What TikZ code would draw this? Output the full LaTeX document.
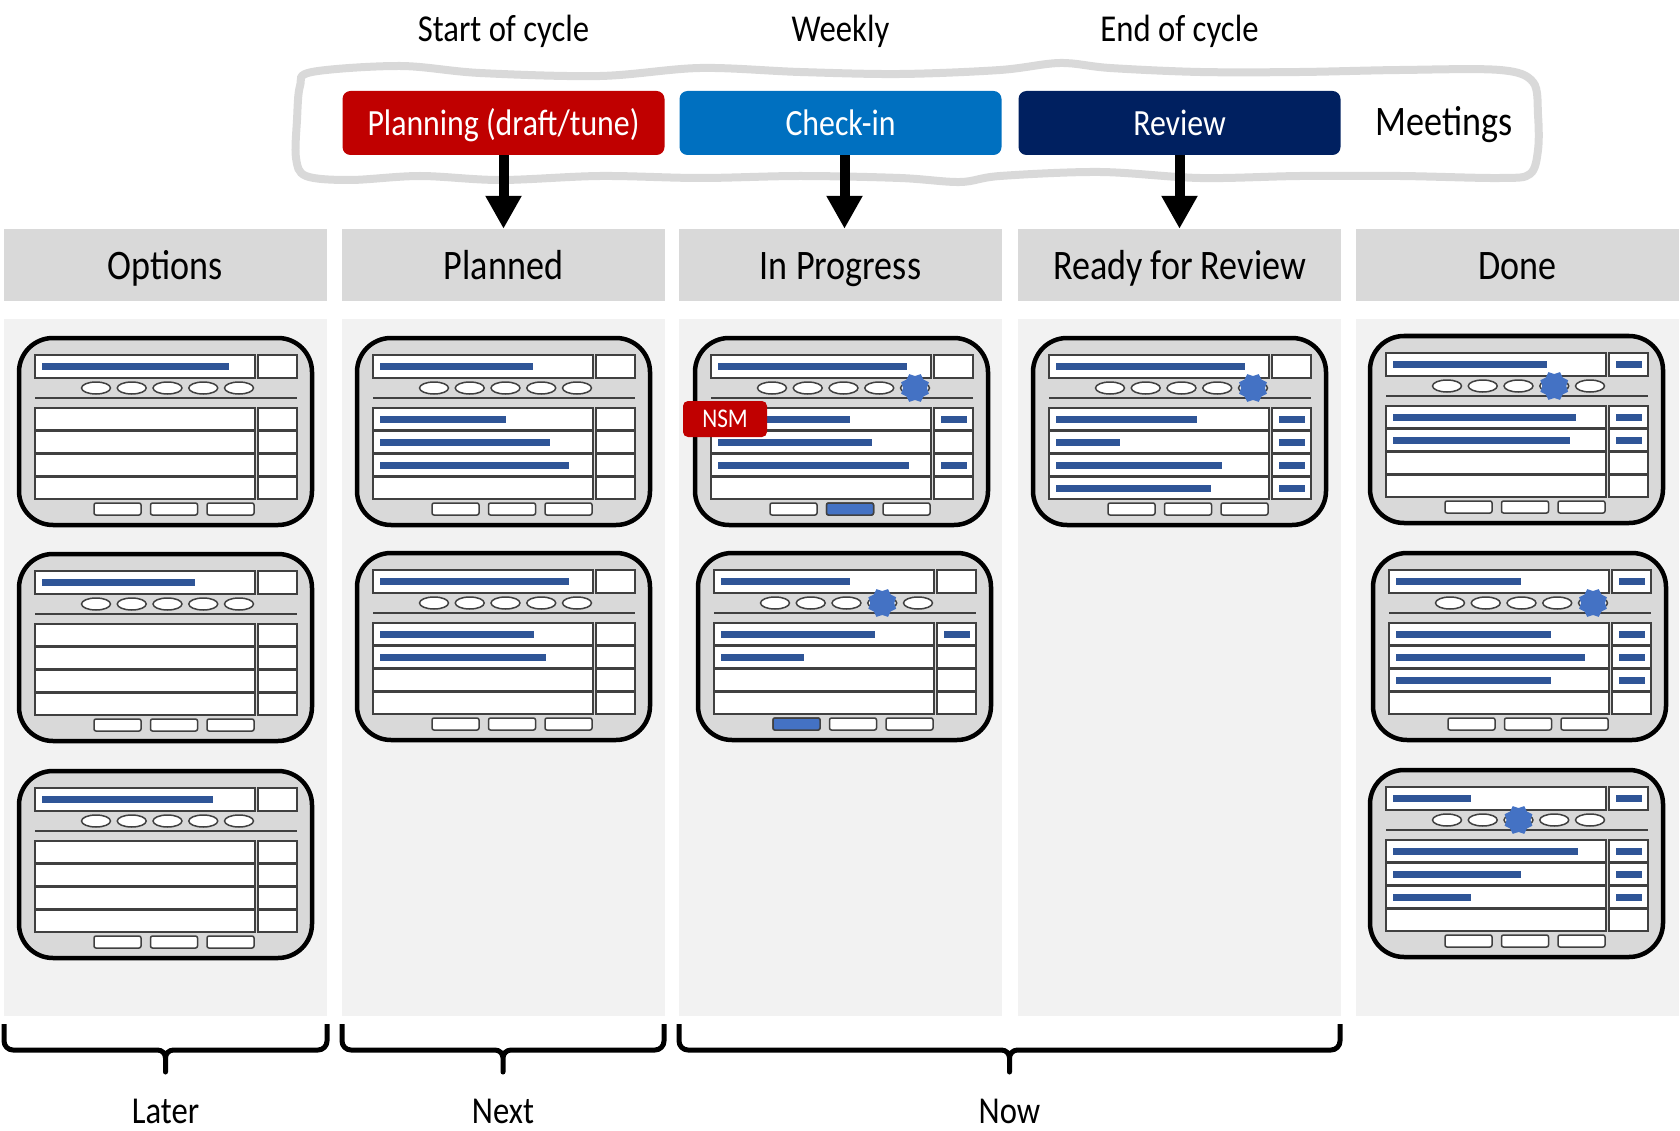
\documentclass[tikz,border=0pt]{standalone}
\usepackage{fontspec}
\setmainfont{Carlito}[FakeStretch=0.86]
\usetikzlibrary{arrows.meta,positioning,shapes.geometric}
\definecolor{PlanRed}{HTML}{C00000}
\definecolor{CheckBlue}{HTML}{0070C0}
\definecolor{ReviewNavy}{HTML}{002060}
\definecolor{HeadGray}{HTML}{D9D9D9}
\definecolor{LaneGray}{HTML}{F2F2F2}
\definecolor{LineGray}{HTML}{404040}
\definecolor{BarBlue}{HTML}{2F5597}
\definecolor{MarkBlue}{HTML}{4472C4}
\tikzset{
  colhead/.style={fill=HeadGray, minimum width=323pt, minimum height=72pt, inner sep=0pt, text height=34pt, text depth=4pt, font=\fontsize{42}{50}\selectfont},
  lanebody/.style={fill=LaneGray, minimum width=323pt, minimum height=697pt, inner sep=0pt},
  meetbox/.style={rounded corners=8pt, minimum width=322pt, minimum height=64pt, inner sep=0pt, text height=30pt, text depth=4pt, text=white, font=\fontsize{37}{44}\selectfont},
  toplabel/.style={inner sep=0pt, text height=30pt, text depth=8pt, font=\fontsize{38}{44}\selectfont},
  bigarrow/.style={line width=10pt, -{Triangle[length=33pt,width=34pt]}},
  wavy/.style={draw=HeadGray, line width=8pt},
  cardframe/.style={fill=HeadGray, draw=black, line width=4.5pt, rounded corners=34pt},
  cell/.style={fill=white, draw=LineGray, line width=1.5pt},
  flagstar/.style={star, star points=8, star point ratio=0.8, minimum size=24pt, inner sep=0pt, fill=MarkBlue},
  nsmtag/.style={fill=PlanRed, rounded corners=5pt, minimum width=84pt, minimum height=36pt, inner sep=0pt, text=white, font=\fontsize{27}{32}\selectfont},
  bracket/.style={line width=5pt, line join=round}
}
% card outline, drawn relative to its top left corner
\newcommand{\cardbase}[1]{%
  \draw[cardframe] (0,0) rectangle (293,-187);
  \draw[cell] (16,-17) rectangle (236,-40);
  \draw[cell] (239,-17) rectangle (278,-40);
  \foreach \ox in {77,112.75,148.5,184.25,220}
    \draw[cell] (\ox,-50) ellipse (14.5 and 6);
  \draw[LineGray, line width=1.5pt] (16,-60) -- (278,-60);
  \foreach \rw in {1,...,4}{
    \draw[cell] (16,{-47-23*\rw}) rectangle (236,{-69-23*\rw});
    \draw[cell] (239,{-47-23*\rw}) rectangle (278,{-69-23*\rw});
  }
  \foreach \bx in {75,131.5,188}
    \draw[cell, rounded corners=2pt] (\bx,-165) rectangle ({\bx+47},-177);
  \fill[BarBlue] (23,-25) rectangle (#1,-32);
}
\newcommand{\rowbar}[2]{\fill[BarBlue] (23,{-54.5-23*#1}) rectangle (#2,{-61.5-23*#1});}
\newcommand{\sidemark}[1]{\fill[BarBlue] (246,{-54.5-23*#1}) rectangle (272,{-61.5-23*#1});}
\newcommand{\titleside}{\fill[BarBlue] (246,-25) rectangle (272,-32);}
\newcommand{\cardflag}[2]{\node[flagstar] (#1) at ({41.25+35.75*#2},-50) {};}
\newcommand{\bluebtn}[1]{\draw[cell, fill=MarkBlue, rounded corners=2pt] ({18.5+56.5*#1},-165) rectangle ({65.5+56.5*#1},-177);}
% brace under a group of lanes
\newcommand{\tbrace}[2]{%
  \pgfmathsetmacro{\bm}{(#1+#2)/2}
  \draw[bracket] (#1,-1024) -- (#1,-1041) arc[start angle=180,end angle=270,radius=9]
    -- ({\bm-8},-1050) arc[start angle=90,end angle=0,radius=8] -- (\bm,-1072)
    -- (\bm,-1058) arc[start angle=180,end angle=90,radius=8]
    -- ({#2-9},-1050) arc[start angle=270,end angle=360,radius=9] -- (#2,-1024);
}

\begin{document}
\begin{tikzpicture}[x=1pt,y=1pt]
\useasboundingbox (0,0) rectangle (1680,-1131);

% lanes and their headers
\foreach \cx/\nm/\txt in {165.5/opt/Options, 503.5/pln/Planned, 840.5/prg/In Progress, 1179.5/rdy/Ready for Review, 1517.5/done/Done}{
  \node[lanebody] (\nm body) at (\cx,-667.5) {};
  \node[colhead] (\nm head) at (\cx,-265) {\txt};
}

% meetings
\draw[wavy] plot[smooth cycle, tension=0.55] coordinates {
  (312,-72) (400,-66) (480,-73) (600,-76) (700,-68) (800,-72) (900,-74)
  (1000,-70) (1060,-63) (1110,-68) (1200,-72) (1300,-72) (1400,-70) (1500,-70)
  (1533,-82) (1538,-115) (1538,-150) (1530,-174) (1500,-178) (1400,-176)
  (1300,-176) (1200,-178) (1100,-172) (1000,-176) (960,-182) (900,-178)
  (800,-176) (700,-178) (600,-176) (500,-180) (420,-176) (350,-180)
  (306,-176) (296,-158) (297,-120) (300,-86)};
\node[meetbox, fill=PlanRed] (plan) at (503.5,-123) {Planning (draft/tune)};
\node[meetbox, fill=CheckBlue] (check) at (840.5,-123) {Check-in};
\node[meetbox, fill=ReviewNavy] (review) at (1179.5,-123) {Review};
\node[inner sep=0pt, text height=32pt, text depth=6pt, font=\fontsize{42}{50}\selectfont] (meet) at (1444,-123) {Meetings};
\node[toplabel] (start) at (503.5,-31) {Start of cycle};
\node[toplabel] (weekly) at (840.5,-31) {Weekly};
\node[toplabel] (endc) at (1179.5,-31) {End of cycle};

\draw[bigarrow] (plan) -- (plnhead);
\draw[bigarrow] ([xshift=4pt]check.south) -- ([xshift=4pt]prghead.north);
\draw[bigarrow] (review) -- (rdyhead);

% Options
\begin{scope}[shift={(19,-338)}] \cardbase{210} \end{scope}
\begin{scope}[shift={(19,-554)}] \cardbase{176} \end{scope}
\begin{scope}[shift={(19,-771)}] \cardbase{194} \end{scope}

% Planned
\begin{scope}[shift={(357,-338)}]
  \cardbase{176}
  \rowbar{1}{149} \rowbar{2}{193} \rowbar{3}{212}
\end{scope}
\begin{scope}[shift={(357,-553)}]
  \cardbase{212}
  \rowbar{1}{177} \rowbar{2}{189}
\end{scope}

% In Progress
\begin{scope}[shift={(695,-338)}]
  \cardbase{212}
  \cardflag{f1}{5}
  \rowbar{1}{155} \rowbar{2}{177} \rowbar{3}{214}
  \sidemark{1} \sidemark{3}
  \bluebtn{2}
  \node[nsmtag] (nsm) at (30,-81) {NSM};
\end{scope}
\begin{scope}[shift={(698,-553)}]
  \cardbase{152}
  \cardflag{f2}{4}
  \rowbar{1}{177} \rowbar{2}{106}
  \sidemark{1}
  \bluebtn{1}
\end{scope}

% Ready for Review
\begin{scope}[shift={(1033,-338)}]
  \cardbase{212}
  \cardflag{f3}{5}
  \rowbar{1}{164} \rowbar{2}{87} \rowbar{3}{189} \rowbar{4}{178}
  \foreach \k in {1,...,4} {\sidemark{\k}}
\end{scope}

% Done
\begin{scope}[shift={(1370,-336)}]
  \cardbase{177} \titleside
  \cardflag{f4}{4}
  \rowbar{1}{206} \rowbar{2}{200}
  \sidemark{1} \sidemark{2}
\end{scope}
\begin{scope}[shift={(1373,-553)}]
  \cardbase{148} \titleside
  \cardflag{f5}{5}
  \rowbar{1}{178} \rowbar{2}{212} \rowbar{3}{178}
  \foreach \k in {1,...,3} {\sidemark{\k}}
\end{scope}
\begin{scope}[shift={(1370,-770)}]
  \cardbase{101} \titleside
  \cardflag{f6}{3}
  \rowbar{1}{208} \rowbar{2}{151} \rowbar{3}{101}
  \foreach \k in {1,...,3} {\sidemark{\k}}
\end{scope}

% time horizons
\tbrace{4}{327}
\tbrace{342}{664}
\tbrace{679}{1340}
\node[toplabel] (later) at (165.5,-1112) {Later};
\node[toplabel] (next) at (503,-1112) {Next};
\node[toplabel] (now) at (1009.5,-1112) {Now};
\end{tikzpicture}
\end{document}
